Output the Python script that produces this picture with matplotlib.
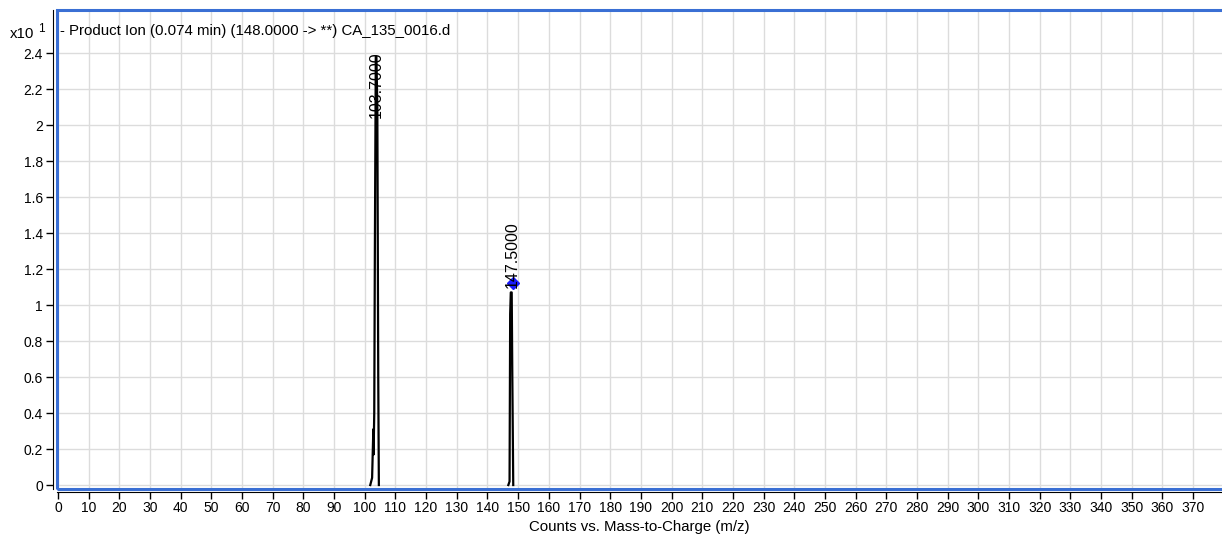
import matplotlib
matplotlib.use("Agg")
import matplotlib.pyplot as plt
from matplotlib.patches import Rectangle

plt.rcParams['font.family'] = ['Liberation Sans', 'DejaVu Sans']

# Profile spectrum data (m/z, counts x10^1), one segment per peak
peak1_mz = [101.8, 102.4, 102.8, 102.9, 103.0, 103.1, 103.3, 103.6, 103.8, 104.1, 104.4, 104.6]
peak1_counts = [0, 0.04, 0.31, 0.17, 0.30, 0.40, 1.30, 2.38, 2.38, 2.10, 0.6, 0.0]
peak2_mz = [146.8, 147.2, 147.4, 147.6, 147.9, 148.1, 148.4]
peak2_counts = [0, 0.02, 0.95, 1.07, 1.07, 0.6, 0]

peak_labels = ["103.7000", "147.5000"]
peak_label_x = [103.8, 148.0]
peak_label_y = [2.41, 1.094]
peak_label_va = ["top", "bottom"]

precursor_mz = [148.2]
precursor_y = [1.12]

xticks = list(range(0, 380, 10))
yticks = [0, 0.2, 0.4, 0.6, 0.8, 1, 1.2, 1.4, 1.6, 1.8, 2, 2.2, 2.4]
ytick_labels = ["0", "0.2", "0.4", "0.6", "0.8", "1", "1.2", "1.4", "1.6", "1.8", "2", "2.2", "2.4"]

W, H = 1222, 538
fig = plt.figure(figsize=(W / 100, H / 100), dpi=100)
ax_l, ax_r, ax_b, ax_t = 57, 1222, 489, 10
ax = fig.add_axes([ax_l / W, (H - ax_b) / H, (ax_r - ax_l) / W, (ax_b - ax_t) / H])

ax.set_xlim(-0.3, 379.4)
ax.set_ylim(-0.022, 2.639)

ax.plot(peak1_mz, peak1_counts, color='black', lw=1.6, zorder=3)
ax.plot(peak2_mz, peak2_counts, color='black', lw=1.6, zorder=3)
ax.plot(precursor_mz, precursor_y, marker='D', color='#1a1aff', ms=6, ls='none', zorder=4)

for lab, x, y, va in zip(peak_labels, peak_label_x, peak_label_y, peak_label_va):
    ax.text(x, y, lab, rotation=90, ha='center', va=va, fontsize=11.5, zorder=5)

ax.set_xticks(xticks)
ax.set_xticklabels([str(t) for t in xticks], fontsize=10)
ax.set_yticks(yticks)
ax.set_yticklabels(ytick_labels, fontsize=10)
ax.grid(True, color='#dcdcdc', lw=1.0, zorder=0)
ax.set_axisbelow(True)
ax.tick_params(axis='both', length=5, width=1, color='black', pad=2)

for s in ['top', 'right']:
    ax.spines[s].set_visible(False)
ax.spines['left'].set_position(('outward', 3))
ax.spines['bottom'].set_position(('outward', 2))
ax.spines['left'].set_color('black')
ax.spines['bottom'].set_color('black')

ax.set_xlabel("Counts vs. Mass-to-Charge (m/z)", fontsize=10.8, labelpad=3)

# blue selection frame
blue = '#3a6fd4'
fig.add_artist(Rectangle((ax_l / W, (H - ax_b) / H), (ax_r - ax_l + 5) / W, (ax_b - ax_t) / H,
                         transform=fig.transFigure, fill=False, edgecolor=blue, lw=2.2, zorder=10))

ax.text(0.003, 0.956, "- Product Ion (0.074 min) (148.0000 -> **) CA_135_0016.d",
        transform=ax.transAxes, ha='left', va='center', fontsize=10.8)
fig.text(10 / W, 1 - 34 / H, "x10", ha='left', va='center', fontsize=10.8)
fig.text(38 / W, 1 - 29 / H, "1", ha='left', va='center', fontsize=8.5)

fig.savefig("out.png", dpi=100)
